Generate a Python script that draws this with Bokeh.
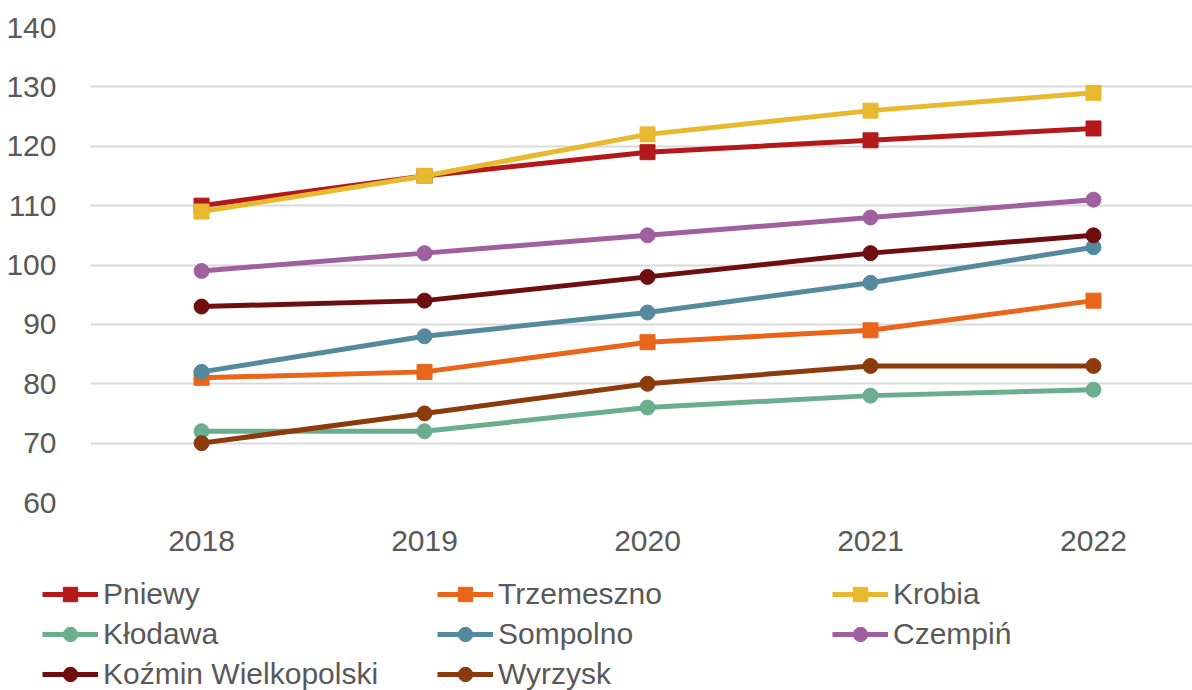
from bokeh.plotting import figure
from bokeh.models import Range1d, Legend, LegendItem, FixedTicker
from bokeh.layouts import column
from bokeh.embed import file_html
from bokeh.resources import INLINE

years = [2018, 2019, 2020, 2021, 2022]
names = ["Pniewy", "Trzemeszno", "Krobia", "Kłodawa", "Sompolno", "Czempiń",
         "Koźmin Wielkopolski", "Wyrzysk"]
pniewy = [110, 115, 119, 121, 123]
trzemeszno = [81, 82, 87, 89, 94]
krobia = [109, 115, 122, 126, 129]
klodawa = [72, 72, 76, 78, 79]
sompolno = [82, 88, 92, 97, 103]
czempin = [99, 102, 105, 108, 111]
kozmin = [93, 94, 98, 102, 105]
wyrzysk = [70, 75, 80, 83, 83]
series = [pniewy, trzemeszno, krobia, klodawa, sompolno, czempin, kozmin, wyrzysk]
colors = ["#B3191A", "#E8651A", "#E8B92E", "#6AAE8F", "#548A9E", "#A0609F",
          "#6E0E0E", "#8C3B0C"]
markers = ["square", "square", "square", "circle", "circle", "circle", "circle", "circle"]
y_ticks = [60, 70, 80, 90, 100, 110, 120, 130, 140]

FONT = "Liberation Sans"
TXT = "#595959"

p = figure(width=1192, height=575, output_backend="svg", toolbar_location=None,
           x_range=Range1d(2017.502, 2022.444), y_range=Range1d(60, 140))
p.min_border_left = 90
p.min_border_right = 0
p.min_border_top = 27
p.min_border_bottom = 73
p.outline_line_color = None
p.background_fill_color = "white"
p.frame_align = False

p.xgrid.grid_line_color = None
p.ygrid.grid_line_color = "#D9D9D9"
p.ygrid.grid_line_width = 2
p.ygrid.ticker = FixedTicker(ticks=y_ticks)

p.yaxis.ticker = FixedTicker(ticks=y_ticks)
p.xaxis.ticker = FixedTicker(ticks=years)
for ax in (p.xaxis, p.yaxis):
    ax.axis_line_color = None
    ax.major_tick_line_color = None
    ax.minor_tick_line_color = None
    ax.major_label_text_font = FONT
    ax.major_label_text_font_size = "30px"
    ax.major_label_text_color = TXT
p.yaxis.major_label_standoff = 28
p.xaxis.major_label_standoff = 22

for vals, col, mk in zip(series, colors, markers):
    p.line(years, vals, line_color=col, line_width=5)
    p.scatter(years, vals, marker=mk, size=15, fill_color=col, line_color=col)

# legend figure (sample glyphs kept outside its visible range)
lg = figure(width=1192, height=115, output_backend="svg", toolbar_location=None,
            x_axis_type=None, y_axis_type=None,
            x_range=Range1d(0, 1), y_range=Range1d(0, 1))
lg.min_border_left = 0
lg.min_border_right = 0
lg.min_border_top = 0
lg.min_border_bottom = 0
lg.outline_line_color = None
lg.frame_align = False
lg.xgrid.visible = False
lg.ygrid.visible = False

items = []
for name, vals, col, mk in zip(names, series, colors, markers):
    lr = lg.line(years, vals, line_color=col, line_width=5)
    sr = lg.scatter(years, vals, marker=mk, size=15, fill_color=col, line_color=col)
    items.append(LegendItem(label=name, renderers=[lr, sr]))

legend = Legend(items=items, orientation="horizontal", ncols=3,
                location=(42, -2), glyph_width=56, glyph_height=36,
                label_height=36, label_width=330, label_standoff=5, spacing=4,
                padding=0, margin=0, border_line_color=None,
                background_fill_alpha=0,
                label_text_font=FONT, label_text_font_size="30px",
                label_text_color=TXT)
lg.add_layout(legend, "center")

layout = column(p, lg, spacing=0)
open("out.html", "w").write(file_html(layout, INLINE))
